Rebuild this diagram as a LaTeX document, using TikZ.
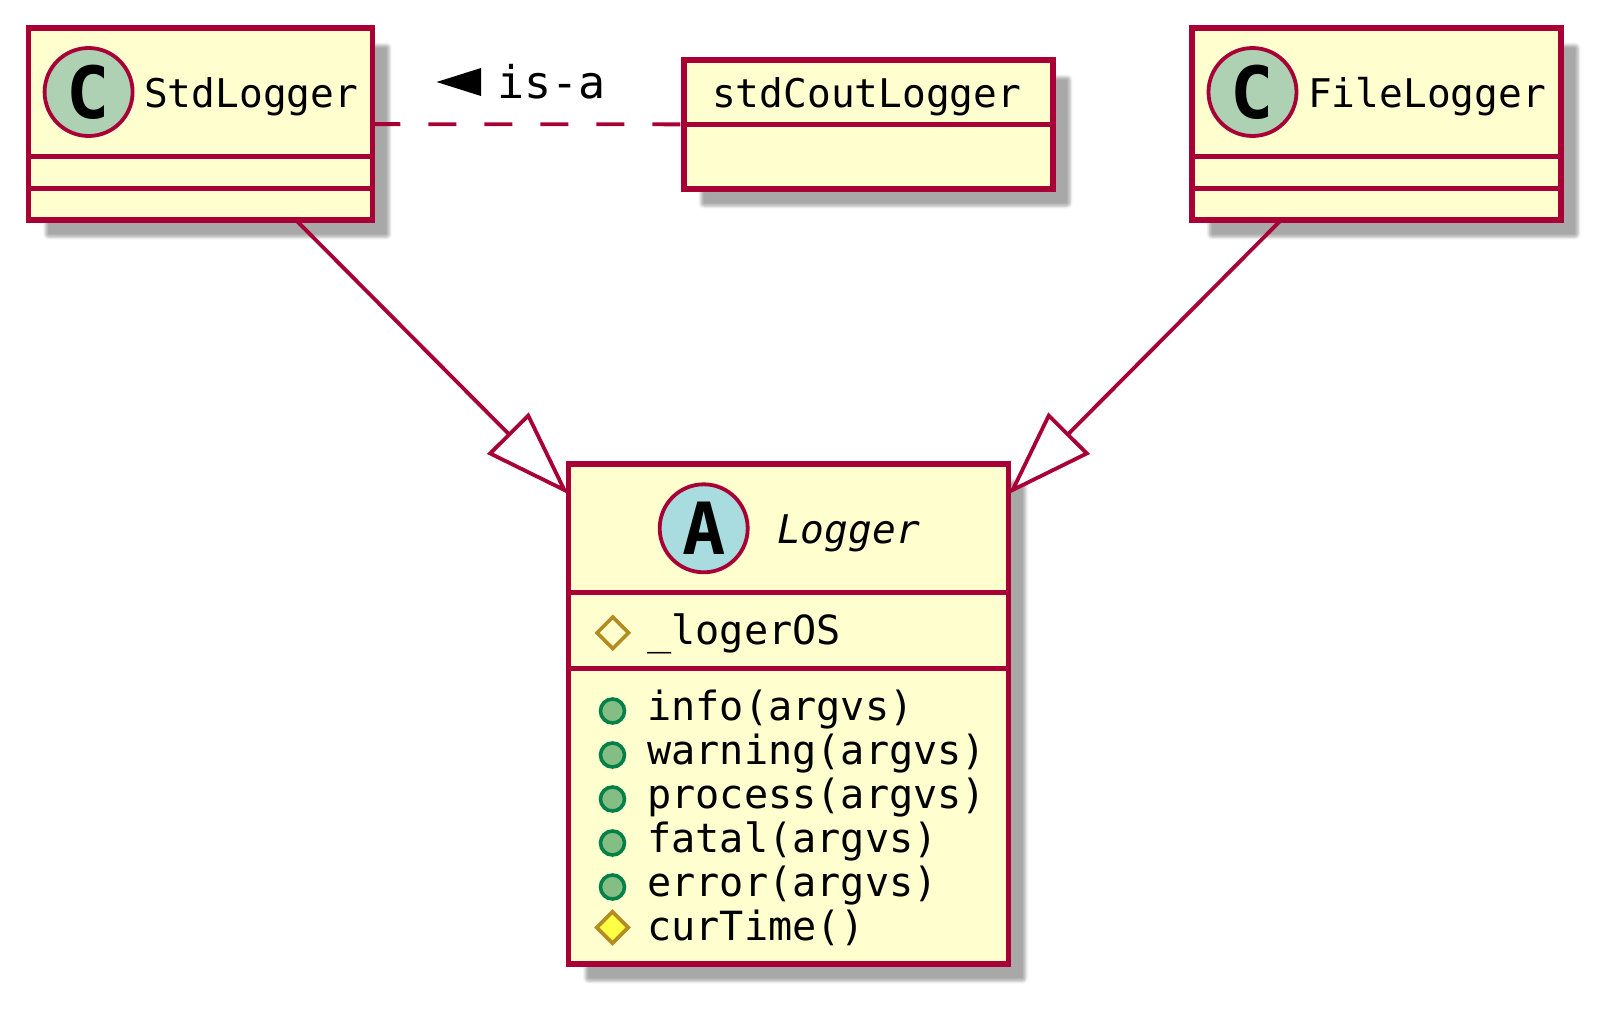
\documentclass[tikz,border=0pt]{standalone}
\usepackage{fontspec}
\setmainfont{DejaVu Sans}
\setmonofont{DejaVu Sans Mono}
\usepackage{tikz}
\usetikzlibrary{shapes.geometric, arrows.meta, positioning, shadows, shadows.blur}
\definecolor{umlborder}{HTML}{A80036}
\definecolor{umlfill}{HTML}{FEFECE}
\definecolor{classgreen}{HTML}{ADD1B2}
\definecolor{abstractblue}{HTML}{A9DCDF}
\definecolor{publicgreen}{HTML}{84BE84}
\definecolor{publicedge}{HTML}{038048}
\definecolor{protectedgold}{HTML}{B38D22}
\definecolor{protectedyellow}{HTML}{FFFF44}
\tikzset{
  classbox/.style={rectangle, draw=umlborder, fill=umlfill, line width=5.5pt, outer sep=0pt, inner sep=0pt,
    blur shadow={shadow xshift=17pt, shadow yshift=-17pt, shadow blur radius=3pt, shadow blur extra rounding=3pt, shadow opacity=34}},
  divider/.style={draw=umlborder, line width=5.5pt},
  badge/.style={circle, draw=umlborder, line width=3.8pt, minimum size=88pt, inner sep=0pt, text=black,
    font=\ttfamily\bfseries\fontsize{72}{72}\selectfont},
  classtext/.style={anchor=base west, inner sep=0pt, font=\ttfamily\fontsize{39.5}{44}\selectfont},
  membertext/.style={anchor=base west, inner sep=0pt, font=\ttfamily\fontsize{40.2}{44}\selectfont},
  publicdot/.style={circle, draw=publicedge, fill=publicgreen, line width=3.6pt, minimum size=24pt, inner sep=0pt},
  protectedmark/.style={diamond, draw=protectedgold, line width=3.6pt, minimum size=33pt, inner sep=0pt},
  inherits/.style={draw=umlborder, line width=3.8pt, -{Triangle[open, length=86pt, width=58pt, fill=white]}},
}

\begin{document}
\begin{tikzpicture}[x=1pt, y=-1pt]
  \useasboundingbox (0,0) rectangle (1612,1015);
  % boxes
  \node[classbox, minimum width=343.7pt, minimum height=192pt] (stdlogger) at (200.5,124) {};
  \node[classbox, minimum width=369pt, minimum height=129pt] (stdcout) at (868.5,124.5) {};
  \node[classbox, minimum width=369pt, minimum height=192pt] (filelogger) at (1376.5,124) {};
  \node[classbox, minimum width=440pt, minimum height=500pt] (logger) at (788.5,714) {};
  % compartments
  \draw[divider] (28.6,156.7) -- (372.3,156.7);
  \draw[divider] (28.6,188.3) -- (372.3,188.3);
  \draw[divider] (684,124.5) -- (1053,124.5);
  \draw[divider] (1192,156.7) -- (1561,156.7);
  \draw[divider] (1192,188.3) -- (1561,188.3);
  \draw[divider] (568.5,592.3) -- (1008.5,592.3);
  \draw[divider] (568.5,668.7) -- (1008.5,668.7);
  % headers
  \node[badge, fill=classgreen] (stdbadge) at (88.6,92) {C};
  \node[classtext] (stdname) at (144,107) {StdLogger};
  \node[classtext] (coutname) at (712,107) {stdCoutLogger};
  \node[badge, fill=classgreen] (filebadge) at (1252.5,92) {C};
  \node[classtext] (filename) at (1308,107) {FileLogger};
  \node[badge, fill=abstractblue] (logbadge) at (703.7,528.3) {A};
  \node[classtext, font=\ttfamily\itshape\fontsize{39.5}{44}\selectfont] (logname) at (777,543) {Logger};
  % members
  \node[protectedmark, fill=umlfill] (mos) at (612.8,632.8) {};
  \node[membertext] (tos) at (647,644) {\_logerOS};
  \node[publicdot] (minfo) at (612.5,711) {};
  \node[membertext] (tinfo) at (647,720.7) {info(argvs)};
  \node[publicdot] (mwarn) at (612.5,755) {};
  \node[membertext] (twarn) at (647,764.7) {warning(argvs)};
  \node[publicdot] (mproc) at (612.5,799) {};
  \node[membertext] (tproc) at (647,808.7) {process(argvs)};
  \node[publicdot] (mfatal) at (612.5,843) {};
  \node[membertext] (tfatal) at (647,852.7) {fatal(argvs)};
  \node[publicdot] (merror) at (612.5,887) {};
  \node[membertext] (terror) at (647,896.7) {error(argvs)};
  \node[protectedmark, fill=protectedyellow] (mtime) at (612.5,927.5) {};
  \node[membertext] (ttime) at (647,940.7) {curTime()};
  % connectors
  \draw[inherits] (stdlogger) -- (logger);
  \draw[inherits] (filelogger) -- (logger);
  \draw[draw=umlborder, line width=3.8pt, dash pattern=on 28pt off 28pt] (stdlogger) -- (stdcout);
  \fill[black] (436.6,82) -- (481,68) -- (481,96) -- cycle;
  \node[classtext, font=\ttfamily\fontsize{45}{48}\selectfont] (isa) at (497,98) {is-a};
\end{tikzpicture}
\end{document}
